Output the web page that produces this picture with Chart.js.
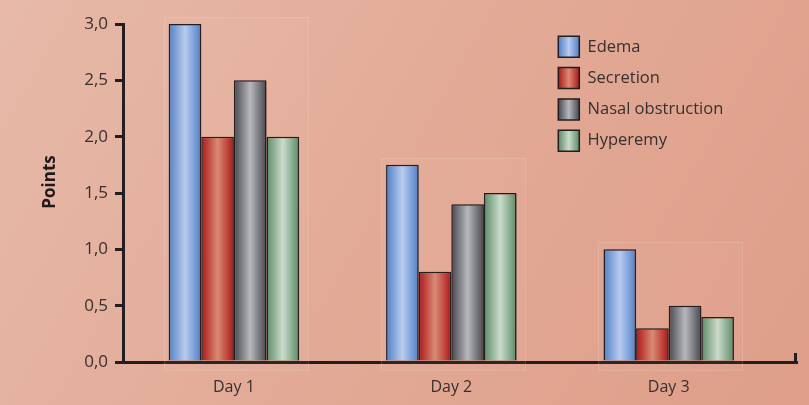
<!DOCTYPE html>
<html>
<head>
<meta charset="utf-8">
<script src="https://cdn.jsdelivr.net/npm/chart.js@4.4.1/dist/chart.umd.min.js"></script>
<style>
  html, body { margin: 0; padding: 0; }
  body {
    width: 809px; height: 405px; overflow: hidden;
    background: linear-gradient(120deg, #e7b9a8 0%, #e2aa96 50%, #de9e89 100%);
  }
</style>
</head>
<body>
<canvas id="pointsChart" width="809" height="405"></canvas>
<script>
// categories + series
const days = ['Day 1', 'Day 2', 'Day 3'];
const edema = [3.0, 1.75, 1.0];
const secretion = [2.0, 0.8, 0.3];
const nasalObstruction = [2.5, 1.4, 0.5];
const hyperemy = [2.0, 1.5, 0.4];
const yTickLabels = ['0,0', '0,5', '1,0', '1,5', '2,0', '2,5', '3,0'];

const seriesNames = ['Edema', 'Secretion', 'Nasal obstruction', 'Hyperemy'];
const seriesValues = [edema, secretion, nasalObstruction, hyperemy];
// edge colour, centre colour for the cylinder-ish shading
const shades = [
    ['#4f80c8', '#b8cbee'],
    ['#ae1619', '#d98b73'],
    ['#46484e', '#b6b8bc'],
    ['#5a8b66', '#cadccc']
];

const axisColor = '#231f20';
const textColor = '#363030';
Chart.defaults.font.family = "'Open Sans', 'DejaVu Sans', sans-serif";

function shadeGradient(ctx, x0, x1, pair) {
    const g = ctx.createLinearGradient(x0, 0, x1, 0);
    g.addColorStop(0, pair[0]);
    g.addColorStop(0.5, pair[1]);
    g.addColorStop(1, pair[0]);
    return g;
}

// shading, group frames, legend placement, axis end tick
const barLook = {
    id: 'barLook',
    beforeDraw(chart) {
        const lg = chart.legend;
        const pad = lg.options.labels.padding;
        const bw = lg.options.labels.boxWidth;
        lg.left = chart.chartArea.right - 249;
        lg.top = chart.chartArea.top + 2;
        lg.legendItems.forEach((item, i) => {
            const x0 = lg.left + pad;
            item.fillStyle = shadeGradient(chart.ctx, x0, x0 + bw, shades[i]);
        });
    },
    beforeDatasetsDraw(chart) {
        const ctx = chart.ctx;
        const area = chart.chartArea;
        // faint frame round each day group
        days.forEach((d, i) => {
            let l = Infinity, r = -Infinity, t = Infinity;
            chart.data.datasets.forEach((ds, di) => {
                const bar = chart.getDatasetMeta(di).data[i];
                l = Math.min(l, bar.x - bar.width / 2);
                r = Math.max(r, bar.x + bar.width / 2);
                t = Math.min(t, bar.y);
            });
            ctx.save();
            ctx.fillStyle = 'rgba(255,236,228,0.04)';
            ctx.strokeStyle = 'rgba(255,236,228,0.16)';
            ctx.lineWidth = 1;
            ctx.fillRect(l - 5, t - 7, r - l + 14, area.bottom - t + 15);
            ctx.strokeRect(Math.round(l - 5) + 0.5, Math.round(t - 7) + 0.5, Math.round(r - l + 14), Math.round(area.bottom - t + 15));
            ctx.restore();
        });
        chart.data.datasets.forEach((ds, di) => {
            chart.getDatasetMeta(di).data.forEach(bar => {
                const g = shadeGradient(ctx, bar.x - bar.width / 2, bar.x + bar.width / 2, shades[di]);
                bar.options = Object.assign({}, bar.options, { backgroundColor: g });
            });
        });
        ctx.save();
        ctx.shadowColor = 'rgba(70,30,20,0.45)';
        ctx.shadowBlur = 5;
        ctx.shadowOffsetX = 3;
        ctx.shadowOffsetY = 2;
    },
    afterDatasetsDraw(chart) {
        const ctx = chart.ctx;
        ctx.restore();
        const a = chart.chartArea;
        ctx.save();
        ctx.strokeStyle = axisColor;
        ctx.lineWidth = 3;
        ctx.beginPath();
        ctx.moveTo(a.right - 1.5, a.bottom);
        ctx.lineTo(a.right - 1.5, a.bottom - 9);
        ctx.stroke();
        ctx.restore();
    }
};

const ctx = document.getElementById('pointsChart').getContext('2d');
const pointsChart = new Chart(ctx, {
    type: 'bar',
    data: {
        datasets: seriesNames.map((name, si) => ({
            label: name,
            data: seriesValues[si].map((v, i) => ({ x: i, y: v })),
            backgroundColor: shades[si][0],
            borderColor: '#1f1f22',
            borderWidth: 1.5,
            categoryPercentage: 0.6,
            barPercentage: 1.0
        }))
    },
    options: {
        responsive: false,
        animation: false,
        layout: { padding: { left: 0, right: 12, top: 24, bottom: 8 } },
        plugins: {
            tooltip: { enabled: false },
            legend: {
                position: 'chartArea',
                align: 'start',
                labels: {
                    boxWidth: 21,
                    boxHeight: 21,
                    padding: 10.3,
                    color: textColor,
                    font: { size: 16.5 }
                }
            }
        },
        scales: {
            x: {
                type: 'linear',
                min: -0.51,
                max: 2.59,
                offset: false,
                afterBuildTicks: s => { s.ticks = days.map((d, i) => ({ value: i })); },
                afterFit: s => { s.height = 35; },
                ticks: {
                    callback: v => days[v],
                    padding: 16,
                    color: textColor,
                    font: { size: 16 },
                    maxRotation: 0,
                    autoSkip: false
                },
                grid: { drawOnChartArea: false, drawTicks: false },
                border: { width: 3, color: axisColor }
            },
            y: {
                min: 0,
                max: 3,
                ticks: {
                    stepSize: 0.5,
                    padding: 7,
                    color: textColor,
                    font: { size: 17 },
                    callback: (v, i) => yTickLabels[i]
                },
                grid: { drawOnChartArea: false, drawTicks: true, tickLength: 8, lineWidth: 3, color: axisColor },
                border: { width: 3, color: axisColor },
                title: {
                    display: true,
                    // leading spaces nudge the rotated label up a little
                    text: '\u00a0\u00a0\u00a0\u00a0\u00a0Points',
                    color: '#1e1a1a',
                    font: { size: 17, weight: 'bold' },
                    padding: { top: 40, bottom: 0 }
                },
                afterFit: s => { s.width = 123; }
            }
        }
    },
    plugins: [barLook]
});
</script>
</body>
</html>
